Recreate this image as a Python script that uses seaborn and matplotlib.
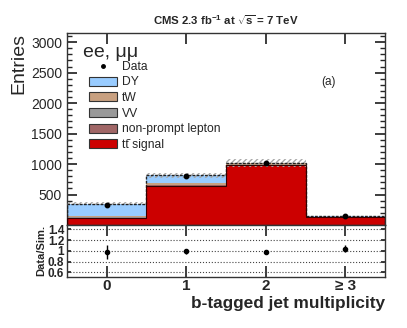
import numpy as np
import pandas as pd
import matplotlib
matplotlib.use("Agg")
import matplotlib.pyplot as plt
import seaborn as sns
from matplotlib.patches import Patch
from matplotlib.lines import Line2D
from matplotlib.ticker import MultipleLocator

# ---- data ----
bins = [0, 1, 2, 3]
bin_labels = ["0", "1", "2", "≥ 3"]
processes = ["DY", "tW", "VV", "non-prompt lepton", "tt\u0304 signal"]
dy = [205, 130, 10, 1.5]
tw = [15, 30, 22, 8]
vv = [8, 5, 2, 0.5]
nonprompt = [10, 8, 6, 2]
ttbar = [108, 645, 980, 128]
data = [335, 805, 1010, 146]
rel_unc = [0.07, 0.05, 0.06, 0.05]
ratio = [0.976, 0.99, 0.98, 1.04]
ratio_err = [0.13, 0.05, 0.04, 0.07]

colors = {"DY": "#99ccff", "tW": "#c8a080", "VV": "#999999",
          "non-prompt lepton": "#a06666", "tt\u0304 signal": "#cc0000"}

sns.set_theme(style="ticks")
plt.rcParams["font.family"] = ["Liberation Sans", "DejaVu Sans"]
plt.rcParams["mathtext.fontset"] = "custom"
plt.rcParams["mathtext.rm"] = "Liberation Sans"
plt.rcParams["mathtext.bf"] = "Liberation Sans:bold"
plt.rcParams["mathtext.it"] = "Liberation Sans:italic"

rows = []
for name, vals in zip(processes, [dy, tw, vv, nonprompt, ttbar]):
    for b, v in zip(bins, vals):
        rows.append({"bin": b, "process": name, "val": v})
df = pd.DataFrame(rows)

fig = plt.figure(figsize=(4.07, 3.28), dpi=100)
ax = fig.add_axes([0.1646, 0.314, 0.946 - 0.1646, 0.8994 - 0.314])
rax = fig.add_axes([0.1646, 0.1564, 0.946 - 0.1646, 0.314 - 0.1564], sharex=ax)

sns.histplot(data=df, x="bin", weights="val", hue="process",
             hue_order=processes, multiple="stack", discrete=True,
             palette=colors, linewidth=0, alpha=1, ax=ax, legend=False)

total = np.array(dy) + np.array(tw) + np.array(vv) + np.array(nonprompt) + np.array(ttbar)
edges = np.arange(-0.5, 4.0, 1.0)
unc = total * np.array(rel_unc)
for i in range(4):
    ax.fill_between([edges[i], edges[i + 1]], total[i] - unc[i], total[i] + unc[i],
                    facecolor="none", edgecolor="#aaaaaa", hatch="//////", lw=0, zorder=4)
ax.stairs(total, edges, color="#222222", lw=1.0, ls=(0, (2, 1)), zorder=5)
ax.stairs(np.array(ttbar), edges, color="#330000", lw=0.8, zorder=5)
ax.errorbar(bins, data, yerr=np.sqrt(data), fmt="o", color="black",
            ms=3.2, elinewidth=1, capsize=0, zorder=7)

ax.set_xlim(-0.5, 3.5)
ax.set_ylim(0, 3150)
ax.set_yticks([500, 1000, 1500, 2000, 2500, 3000])
ax.yaxis.set_minor_locator(MultipleLocator(100))
ax.tick_params(axis="both", which="both", direction="in", top=True, right=True)
ax.tick_params(axis="y", which="major", length=7, labelsize=10)
ax.tick_params(axis="y", which="minor", length=3.5)
ax.tick_params(axis="x", which="major", length=8, labelbottom=False)
ax.set_xticks(bins)
ax.set_xlabel("")
ax.set_ylabel("Entries", loc="top", fontsize=14)
ax.yaxis.set_label_coords(-0.125, 1.0)
ax.set_title(r"CMS 2.3 fb$^{\mathbf{-1}}$ at $\sqrt{\mathbf{s}}$ = 7 TeV",
             fontsize=8.2, fontweight="bold", pad=6)

ax.text(0.05, 0.945, "ee, μμ", transform=ax.transAxes, fontsize=14, va="top")
ax.text(0.80, 0.745, "(a)", transform=ax.transAxes, fontsize=8.5, va="center")

handles = [Line2D([], [], marker="o", ls="none", color="black", ms=2.5)]
labels = ["Data"]
for p in processes:
    handles.append(Patch(facecolor=colors[p], edgecolor="#333333", lw=0.8))
    labels.append(p)
ax.legend(handles, labels, loc="upper left", bbox_to_anchor=(0.055, 0.88),
          frameon=False, fontsize=8.7, handlelength=2.3, handleheight=0.75,
          labelspacing=0.3, handletextpad=0.4, borderaxespad=0)

rax.errorbar(bins, ratio, yerr=ratio_err, fmt="o", color="black",
             ms=3, elinewidth=1, capsize=0)
rax.set_ylim(0.52, 1.48)
rax.set_yticks([0.6, 0.8, 1.0, 1.2, 1.4])
rax.set_yticklabels(["0.6", "0.8", "1", "1.2", "1.4"], fontweight="bold")
rax.grid(axis="y", ls=":", color="#444444", lw=0.8)
rax.tick_params(axis="both", direction="in", top=True, right=True)
rax.tick_params(axis="y", labelsize=8.5, length=3, pad=2)
rax.tick_params(axis="x", length=8, labelsize=11, pad=2)
rax.set_xticks(bins)
rax.set_xticklabels(bin_labels, fontweight="bold")
rax.set_ylabel("Data/Sim.", fontsize=8, fontweight="bold", labelpad=1)
rax.set_xlabel("b-tagged jet multiplicity", loc="right", fontsize=12.4,
               fontweight="bold", labelpad=2)

for a in (ax, rax):
    for s in a.spines.values():
        s.set_linewidth(1.0)
        s.set_color("#333333")

fig.savefig("out.png", dpi=100)
